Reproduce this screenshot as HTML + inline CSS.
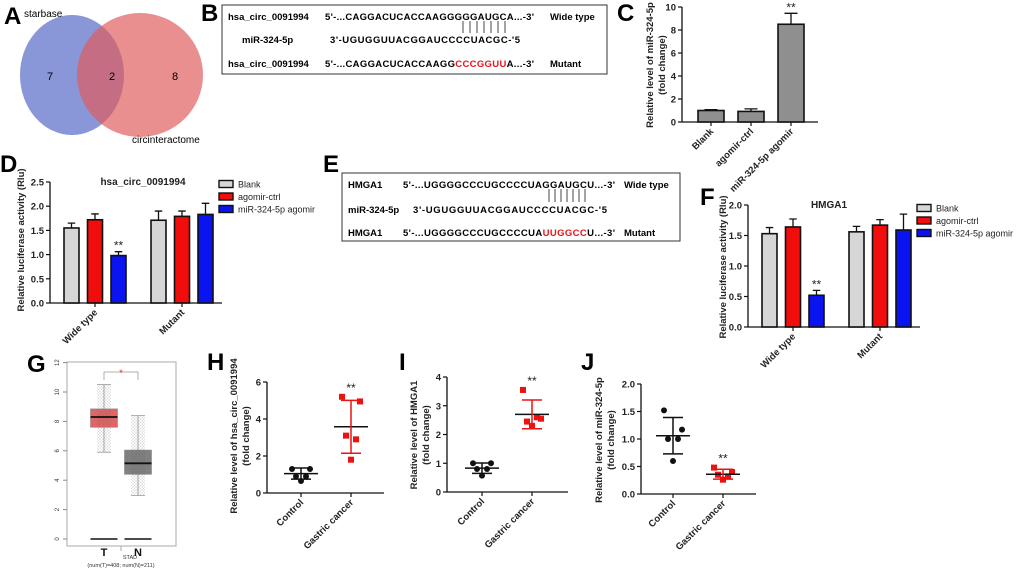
<!DOCTYPE html>
<html><head><meta charset="utf-8"><style>
html,body{margin:0;padding:0;background:#fff;}
svg{display:block;font-family:"Liberation Sans",Arial,sans-serif;}
.b{font-weight:bold;}
</style></head><body>
<svg id="fig" width="1020" height="572" viewBox="0 0 1020 572" xmlns="http://www.w3.org/2000/svg">
<defs><pattern id="dots" width="3" height="3" patternUnits="userSpaceOnUse"><circle cx="1" cy="1" r="0.5" fill="#444"/><circle cx="2.5" cy="2.3" r="0.4" fill="#666"/></pattern></defs>
<g>
<text x="4" y="24" font-size="24" class="b">A</text>
<ellipse cx="72" cy="75" rx="52" ry="60" fill="#5b6ec9" fill-opacity="0.72"/>
<ellipse cx="140" cy="75" rx="63" ry="62" fill="#e05a5a" fill-opacity="0.68"/>
<text x="24" y="17" font-size="10">starbase</text>
<text x="132" y="143" font-size="10">circinteractome</text>
<text x="50" y="80" font-size="11" text-anchor="middle">7</text>
<text x="112" y="80" font-size="11" text-anchor="middle">2</text>
<text x="175" y="80" font-size="11" text-anchor="middle">8</text>
</g>
<g font-size="9.5" class="b">
<text x="201" y="21" font-size="24" class="b">B</text>
<rect x="222" y="5" width="385" height="69" fill="none" stroke="#333" stroke-width="1"/>
<text x="228" y="20">hsa_circ_0091994</text>
<text x="325" y="20" textLength="209">5'-...CAGGACUCACCAAGGGGGAUGCA...-3'</text>
<text x="550" y="20">Wide type</text>
<text x="242" y="43">miR-324-5p</text>
<text x="330" y="43" textLength="190">3'-UGUGGUUACGGAUCCCCUACGC-'5</text>
<text x="228" y="67">hsa_circ_0091994</text>
<text x="325" y="67" textLength="209">5'-...CAGGACUCACCAAGG<tspan fill="#e8141c">CCCGGUU</tspan>A...-3'</text>
<text x="550" y="67">Mutant</text>
<g id="bLines" stroke="#333" stroke-width="0.9"></g>
</g>
<g font-size="9.5" class="b">
<text x="323" y="172" font-size="24" class="b">E</text>
<rect x="342" y="173" width="338" height="68" fill="none" stroke="#333" stroke-width="1"/>
<text x="348" y="188">HMGA1</text>
<text x="403" y="188" textLength="212">5'-...UGGGGCCCUGCCCCUAGGAUGCU...-3'</text>
<text x="624" y="188">Wide type</text>
<text x="348" y="213">miR-324-5p</text>
<text x="413" y="213" textLength="194">3'-UGUGGUUACGGAUCCCCUACGC-'5</text>
<text x="348" y="236">HMGA1</text>
<text x="403" y="236" textLength="212">5'-...UGGGGCCCUGCCCCUA<tspan fill="#e8141c">UUGGCC</tspan>U...-3'</text>
<text x="624" y="236">Mutant</text>
<g id="eLines" stroke="#333" stroke-width="0.9"></g>
</g>
<text x="617" y="21" font-size="24" class="b">C</text>
<text x="0" y="172" font-size="24" class="b">D</text>
<text x="700" y="205" font-size="24" class="b">F</text>
<text x="27" y="372" font-size="24" class="b">G</text>
<text x="207" y="370" font-size="24" class="b">H</text>
<text x="399" y="370" font-size="24" class="b">I</text>
<text x="581" y="370" font-size="24" class="b">J</text>
<g id="charts"></g>
</svg>
<script>
const cCategories = ["Blank", "agomir-ctrl", "miR-324-5p agomir"];
const cValues = [1.0, 0.92, 8.5];
const cErrors = [0.07, 0.22, 0.95];
const cTicks = [0, 2, 4, 6, 8, 10];
const dGroups = ["Wide type", "Mutant"];
const dSeries = ["Blank", "agomir-ctrl", "miR-324-5p agomir"];
const dBlank = [1.55, 1.71];
const dCtrl = [1.72, 1.79];
const dAgomir = [0.98, 1.83];
const dBlankErr = [0.10, 0.19];
const dCtrlErr = [0.12, 0.11];
const dAgomirErr = [0.08, 0.23];
const dTicks = [0, 0.5, 1.0, 1.5, 2.0, 2.5];
const fBlank = [1.53, 1.56];
const fCtrl = [1.64, 1.67];
const fAgomir = [0.52, 1.59];
const fBlankErr = [0.10, 0.09];
const fCtrlErr = [0.13, 0.09];
const fAgomirErr = [0.08, 0.26];
const fTicks = [0, 0.5, 1.0, 1.5, 2.0];
const gGroups = ["T", "N"];
const gQ1 = [7.6, 4.4];
const gMedian = [8.3, 5.15];
const gQ3 = [8.85, 6.05];
const gWhiskLow = [5.9, 2.95];
const gWhiskHigh = [10.5, 8.4];
const gTicks = [0, 2, 4, 6, 8, 10, 12];
const dotCategories = ["Control", "Gastric cancer"];
const hControl = [1.3, 1.3, 0.9, 0.9, 0.65];
const hCancer = [5.2, 4.95, 3.1, 2.9, 1.8];
const hMean = [1.05, 3.58];
const hSD = [0.3, 1.43];
const hTicks = [0, 2, 4, 6];
const iControl = [1.0, 1.0, 0.8, 0.8, 0.57];
const iCancer = [3.55, 2.55, 2.45, 2.6, 2.3];
const iMean = [0.83, 2.7];
const iSD = [0.18, 0.5];
const iTicks = [0, 1, 2, 3, 4];
const jControl = [1.52, 1.17, 1.0, 1.0, 0.6];
const jCancer = [0.48, 0.4, 0.35, 0.32, 0.26];
const jMean = [1.06, 0.36];
const jSD = [0.33, 0.09];
const jTicks = [0, 0.5, 1.0, 1.5, 2.0];

const NS = "http://www.w3.org/2000/svg";
const root = document.getElementById('charts');
function mk(tag, attrs, parent) {
  const el = document.createElementNS(NS, tag);
  for (const k in attrs) el.setAttribute(k, attrs[k]);
  (parent || root).appendChild(el);
  return el;
}
function lin(d0, d1, r0, r1) { return v => r0 + (v - d0) * (r1 - r0) / (d1 - d0); }

[463,470,477,484,491,498,505].forEach(x => {
  const l = mk('line', {x1:x, x2:x, y1:21, y2:33}, document.getElementById('bLines'));
  
  
});
[549,555,561,567,573,579,585].forEach(x => {
  const l = mk('line', {x1:x, x2:x, y1:189, y2:202}, document.getElementById('eLines'));
  
  
});

function yAxis(g, x, y, ticks, fmt) {
  const ax = mk('line', {x1:x, x2:x, y1:y(ticks[ticks.length-1]), y2:y(ticks[0]), stroke:'#111', 'stroke-width':1.3}, g);
  
  
  ticks.forEach(t => {
    const tk = mk('line', {x1:x-4, x2:x, y1:y(t), y2:y(t), stroke:'#111', 'stroke-width':1.2}, g);
    
    
    const tl = mk('text', {x:x-6, y:y(t)+3.5, 'font-size':9.5, 'font-weight':'bold', 'text-anchor':'end', fill:'#222'}, g);
    tl.textContent = fmt(t);
    
    
  });
}
function yTitle(g, x, cy, lines) {
  lines.forEach((s, i) => {
    const t = mk('text', {x:0, y:0, 'font-size':9.5, 'font-weight':'bold', 'text-anchor':'middle', fill:'#222', transform:`translate(${x + i*12},${cy}) rotate(-90)`}, g);
    t.textContent = s;
    
    
  });
}
function xLabel(g, x, y, s) {
  const t = mk('text', {x:0, y:0, 'font-size':9.5, 'font-weight':'bold', 'text-anchor':'end', fill:'#222', transform:`translate(${x+3},${y}) rotate(-45)`}, g);
  t.textContent = s;
  
  
}
function xAxis(g, x0, x1, y0) {
  const a = mk('line', {x1:x0, x2:x1, y1:y0, y2:y0, stroke:'#111', 'stroke-width':1.3}, g);
  
  
}
function bar(g, cx, w, y, v, err, fill, name) {
  const r = mk('rect', {x:cx-w/2, y:y(v), width:w, height:y(0)-y(v), fill:fill, stroke:'#111', 'stroke-width':1.6}, g);
  
  
  const e = mk('path', {d:`M${cx},${y(v)}V${y(v+err)}M${cx-w/4},${y(v+err)}H${cx+w/4}`, stroke:'#111', 'stroke-width':1.3, fill:'none'}, g);
  
  
}
function stars(g, x, y) {
  const s = mk('text', {x:x, y:y, 'font-size':12, 'text-anchor':'middle', fill:'#222'}, g);
  s.textContent = '**';
  
  
}

(function(){
  const g = mk('g', {});
  
  
  const y = lin(0, 10, 122, 7);
  const x = i => 711 + i * 40;
  yAxis(g, 682, y, cTicks, t => String(t));
  xAxis(g, 682, 818, y(0));
  yTitle(g, 653, 65, ['Relative level of miR-324-5p', '(fold change)']);
  cCategories.forEach((c, i) => {
    bar(g, x(i), 26, y, cValues[i], cErrors[i], '#8f8f8f', 'bar-' + c.toLowerCase().replace(/[^a-z0-9]+/g,'-'));
    const tk = mk('line', {x1:x(i), x2:x(i), y1:y(0), y2:y(0)+4, stroke:'#111', 'stroke-width':1.2}, g);
    
    
    xLabel(g, x(i), y(0)+10, c);
  });
  stars(g, x(2), y(cValues[2]+cErrors[2]) - 2);
})();

function groupedBars(opt) {
  const g = mk('g', {});
  
  
  const y = opt.y;
  yAxis(g, opt.ax, y, opt.ticks, t => t.toFixed(1));
  xAxis(g, opt.ax, opt.axEnd, y(0));
  yTitle(g, opt.titleX, opt.titleY, ['Relative luciferase activity (Rlu)']);
  const t = mk('text', {x:opt.chartTitleX, y:opt.chartTitleY, 'font-size':10, 'font-weight':'bold', 'text-anchor':'middle', fill:'#222'}, g);
  t.textContent = opt.title;
  
  
  const series = [opt.s0, opt.s1, opt.s2];
  const errs = [opt.e0, opt.e1, opt.e2];
  const fills = ['#d6d6d6', '#f20d0d', '#0a14f0'];
  dGroups.forEach((gn, gi) => {
    const gc = opt.g0 + gi * opt.gStep;
    series.forEach((s, si) => {
      const cx = gc + (si - 1) * 23.5;
      bar(g, cx, 15, y, s[gi], errs[si][gi], fills[si], 'bar-' + gn.toLowerCase().replace(' ','-') + '-' + dSeries[si].toLowerCase().replace(/[^a-z0-9]+/g,'-'));
    });
    const tk = mk('line', {x1:gc, x2:gc, y1:y(0), y2:y(0)+4, stroke:'#111', 'stroke-width':1.2}, g);
    
    
    xLabel(g, gc, y(0)+10, gn);
  });
  stars(g, opt.g0 + 23.5, y(opt.s2[0] + opt.e2[0]) - 2);
  dSeries.forEach((s, i) => {
    const ly = opt.legY + i * 12.5;
    const r = mk('rect', {x:opt.legX, y:ly-3.5, width:14, height:7, fill:fills[i], stroke:'#111', 'stroke-width':1.4}, g);
    
    
    const lt = mk('text', {x:opt.legX + 19, y:ly+3.5, 'font-size':9, fill:'#222'}, g);
    lt.textContent = s;
    
    
  });
}
groupedBars({name:'panel-d-bar-chart', y:lin(0, 2.5, 303, 182), ticks:dTicks, ax:50, axEnd:222,
  titleX:24, titleY:240, chartTitleX:143, chartTitleY:185, title:'hsa_circ_0091994',
  s0:dBlank, s1:dCtrl, s2:dAgomir, e0:dBlankErr, e1:dCtrlErr, e2:dAgomirErr,
  g0:95, gStep:87, legX:219, legY:184});
groupedBars({name:'panel-f-bar-chart', y:lin(0, 2.0, 327, 205), ticks:fTicks, ax:748, axEnd:920,
  titleX:726, titleY:267, chartTitleX:829, chartTitleY:208, title:'HMGA1',
  s0:fBlank, s1:fCtrl, s2:fAgomir, e0:fBlankErr, e1:fCtrlErr, e2:fAgomirErr,
  g0:793, gStep:87, legX:917, legY:208});

(function(){
  const g = mk('g', {});
  
  
  const y = lin(0, 10, 539, 392);
  const fr = mk('rect', {x:67, y:362, width:109, height:184, fill:'none', stroke:'#aaa', 'stroke-width':1}, g);
  
  
  gTicks.forEach(t => {
    const tk = mk('line', {x1:63, x2:67, y1:y(t), y2:y(t), stroke:'#888'}, g);
    
    
    const tl = mk('text', {x:0, y:0, 'font-size':6, 'text-anchor':'middle', fill:'#333', transform:`translate(59,${y(t)}) rotate(-90)`}, g);
    tl.textContent = String(t);
    
    
  });
  const xs = [104, 138];
  const fills = ['#e06666', '#808080'];
  gGroups.forEach((gn, i) => {
    const cx = xs[i];
    const w = mk('path', {d:`M${cx},${y(gWhiskLow[i])}V${y(gWhiskHigh[i])}M${cx-7},${y(gWhiskLow[i])}H${cx+7}M${cx-7},${y(gWhiskHigh[i])}H${cx+7}`, stroke:'#999', 'stroke-width':0.8, fill:'none'}, g);
    
    
    const b = mk('rect', {x:cx-13.5, y:y(gQ3[i]), width:27, height:y(gQ1[i])-y(gQ3[i]), fill:fills[i], stroke:'#888', 'stroke-width':0.6}, g);
    
    
    const d = mk('rect', {x:cx-7, y:y(gWhiskHigh[i]), width:14, height:y(gWhiskLow[i])-y(gWhiskHigh[i]), fill:'url(#dots)', opacity:0.6}, g);
    
    
    const m = mk('line', {x1:cx-13.5, x2:cx+13.5, y1:y(gMedian[i]), y2:y(gMedian[i]), stroke:'#111', 'stroke-width':1.8}, g);
    
    
    const z = mk('line', {x1:cx-13.5, x2:cx+13.5, y1:y(0), y2:y(0), stroke:'#111', 'stroke-width':1.5}, g);
    
    
    const t = mk('text', {x:cx, y:556, 'font-size':11, 'font-weight':'bold', 'text-anchor':'middle', fill:'#111'}, g);
    t.textContent = gn;
    
    
  });
  const br = mk('path', {d:`M104,380V372H138V380`, stroke:'#999', 'stroke-width':0.8, fill:'none'}, g);
  
  
  const st = mk('text', {x:121, y:376, 'font-size':9, 'text-anchor':'middle', fill:'#e02020'}, g);
  st.textContent = '*';
  
  
  const s1 = mk('text', {x:130, y:559, 'font-size':5.5, 'text-anchor':'middle', fill:'#333'}, g);
  s1.textContent = 'STAD';
  
  
  const s2 = mk('text', {x:121, y:567, 'font-size':5.5, 'text-anchor':'middle', fill:'#333'}, g);
  s2.textContent = '(num(T)=408; num(N)=211)';
  
  
  const sm = mk('line', {x1:121, x2:121, y1:546, y2:551, stroke:'#aaa'}, g);
  
  
})();

const jitter = [-9, 9, -5, 5, 0];
function dotPlot(opt) {
  const g = mk('g', {});
  
  
  const y = opt.y;
  yAxis(g, opt.ax, y, opt.ticks, opt.fmt);
  xAxis(g, opt.ax, opt.axEnd, y(0));
  yTitle(g, opt.titleX, opt.titleY, opt.titles);
  const groups = [opt.ctrl, opt.cancer];
  const cols = ['#111', '#ee1111'];
  dotCategories.forEach((c, gi) => {
    const cx = opt.x0 + gi * 50;
    groups[gi].forEach((v, k) => {
      const px = cx + jitter[k];
      let p;
      if (gi === 0) p = mk('circle', {cx:px, cy:y(v), r:3, fill:cols[0]}, g);
      else p = mk('rect', {x:px-3, y:y(v)-3, width:6, height:6, fill:cols[1]}, g);
      
      
    });
    const m = opt.mean[gi], s = opt.sd[gi];
    const ml = mk('line', {x1:cx-17, x2:cx+17, y1:y(m), y2:y(m), stroke:'#111', 'stroke-width':1.5}, g);
    
    
    const eb = mk('path', {d:`M${cx},${y(m-s)}V${y(m+s)}M${cx-10},${y(m-s)}H${cx+10}M${cx-10},${y(m+s)}H${cx+10}`, stroke:cols[gi], 'stroke-width':1.5, fill:'none'}, g);
    
    
    const tk = mk('line', {x1:cx, x2:cx, y1:y(0), y2:y(0)+4, stroke:'#111', 'stroke-width':1.2}, g);
    
    
    xLabel(g, cx, y(0)+10, c);
  });
  const top = Math.max(Math.max(...opt.cancer), opt.mean[1] + opt.sd[1]);
  stars(g, opt.x0 + 50, y(top) - 5);
}
dotPlot({name:'panel-h-dot-plot', y:lin(0, 6, 493, 382), ticks:hTicks, fmt:t=>String(t), ax:267, axEnd:384,
  x0:301, ctrl:hControl, cancer:hCancer, mean:hMean, sd:hSD, titleX:237, titleY:436,
  titles:['Relative  level of hsa_circ_0091994', '(fold change)']});
dotPlot({name:'panel-i-dot-plot', y:lin(0, 4, 492, 377), ticks:iTicks, fmt:t=>String(t), ax:447, axEnd:568,
  x0:482, ctrl:iControl, cancer:iCancer, mean:iMean, sd:iSD, titleX:417, titleY:435,
  titles:['Relative  level of HMGA1', '(fold change)']});
dotPlot({name:'panel-j-dot-plot', y:lin(0, 2, 494, 384), ticks:jTicks, fmt:t=>t.toFixed(1), ax:641, axEnd:756,
  x0:673, ctrl:jControl, cancer:jCancer, mean:jMean, sd:jSD, titleX:602, titleY:440,
  titles:['Relative level of miR-324-5p', '(fold change)']});
</script>
</body></html>
